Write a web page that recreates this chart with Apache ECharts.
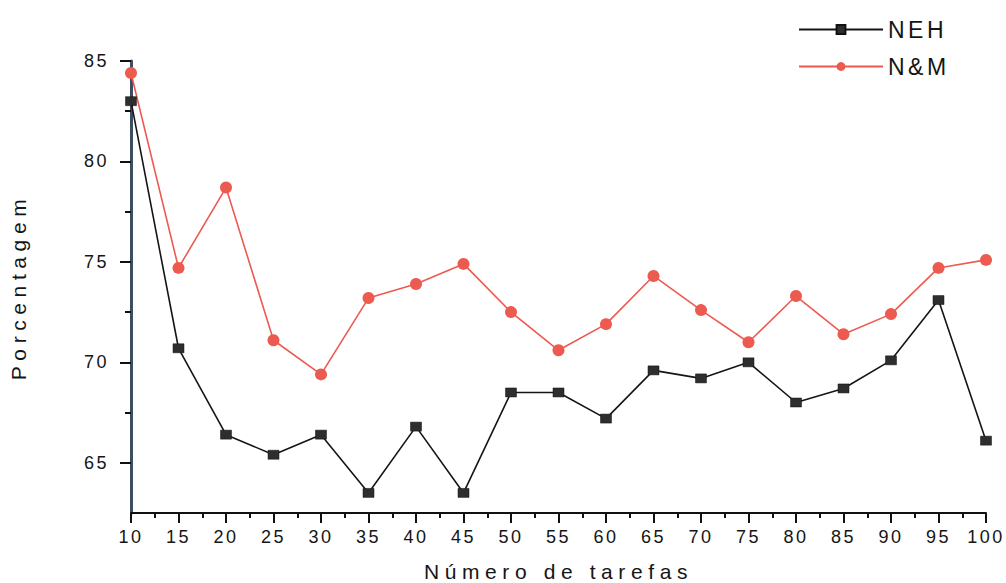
<!DOCTYPE html>
<html>
<head>
<meta charset="utf-8">
<script src="https://cdn.jsdelivr.net/npm/echarts@6/dist/echarts.min.js"></script>
<style>
  html, body { margin: 0; padding: 0; background: #fff; }
  #chart { width: 1006px; height: 583px; }
  /* widely tracked lettering, as in the printed figure */
  #chart text[style*="21px"] { letter-spacing: 5.6px; }
  #chart text[style*="23px"] { letter-spacing: 3.5px; }
  #chart text[style*="18px"] { letter-spacing: 2.5px; }
</style>
</head>
<body>
<div id="chart"></div>
<script>
// Number of tasks (x) and percentage reached by each heuristic
const tarefas = [10, 15, 20, 25, 30, 35, 40, 45, 50, 55, 60, 65, 70, 75, 80, 85, 90, 95, 100];
const neh = [83.0, 70.7, 66.4, 65.4, 66.4, 63.5, 66.8, 63.5, 68.5, 68.5, 67.2, 69.6, 69.2, 70.0, 68.0, 68.7, 70.1, 73.1, 66.1];
const nm  = [84.4, 74.7, 78.7, 71.1, 69.4, 73.2, 73.9, 74.9, 72.5, 70.6, 71.9, 74.3, 72.6, 71.0, 73.3, 71.4, 72.4, 74.7, 75.1];

// Y axis tick positions
const yMajorTicks = [65, 70, 75, 80, 85];
const yMinorTicks = [67.5, 72.5, 77.5, 82.5];

const pairs = (xs, ys) => xs.map((x, i) => [x, ys[i]]);

const chart = echarts.init(document.getElementById('chart'), null, { renderer: 'svg' });

const fontFamily = 'Liberation Sans, Arial, sans-serif';

chart.setOption({
  backgroundColor: '#ffffff',
  animation: false,
  grid: { left: 131, right: 20, top: 61, bottom: 70, containLabel: false, outerBoundsMode: 'none' },
  legend: {
    orient: 'vertical',
    left: 793,
    top: 13,
    itemWidth: 84,
    itemHeight: 11,
    itemGap: 14,
    textStyle: { fontFamily, fontSize: 23, color: '#151515' },
    data: ['NEH', 'N&M']
  },
  xAxis: {
    type: 'value',
    min: 10,
    max: 100,
    interval: 5,
    name: 'Número de tarefas',
    nameLocation: 'middle',
    nameGap: 48,
    nameTextStyle: { fontFamily, fontSize: 21, color: '#151515' },
    splitLine: { show: false },
    axisLine: { show: true, lineStyle: { color: '#111', width: 2 } },
    axisTick: { show: true, inside: false, length: 10, lineStyle: { color: '#111', width: 2 } },
    minorTick: { show: true, splitNumber: 2, length: 5, lineStyle: { color: '#111', width: 2 } },
    axisLabel: { fontFamily, fontSize: 18, color: '#151515', margin: 15 }
  },
  yAxis: [
    {
      type: 'value',
      min: 62.5,
      max: 85,
      name: 'Porcentagem',
      nameLocation: 'middle',
      nameGap: 102,
      nameTextStyle: { fontFamily, fontSize: 21, color: '#151515' },
      splitLine: { show: false },
      axisLine: { show: true, onZero: false, lineStyle: { color: '#3b4f60', width: 3 } },
      axisTick: { show: true, inside: false, length: 11, customValues: yMajorTicks, lineStyle: { color: '#111', width: 2 } },
      axisLabel: { fontFamily, fontSize: 18, color: '#151515', margin: 22, customValues: yMajorTicks }
    },
    {
      type: 'value',
      min: 62.5,
      max: 85,
      position: 'left',
      splitLine: { show: false },
      axisLine: { show: false },
      axisTick: { show: true, inside: false, length: 6, customValues: yMinorTicks, lineStyle: { color: '#111', width: 2 } },
      axisLabel: { show: false }
    }
  ],
  series: [
    {
      name: 'NEH',
      type: 'line',
      data: pairs(tarefas, neh),
      symbol: 'rect',
      symbolSize: [11, 9],
      z: 3,
      itemStyle: { color: '#2e2e2e', borderColor: '#111', borderWidth: 0.5 },
      lineStyle: { color: '#151515', width: 1.6 }
    },
    {
      name: 'N&M',
      type: 'line',
      data: pairs(tarefas, nm),
      symbol: 'circle',
      symbolSize: 12,
      z: 2,
      itemStyle: { color: '#ec5a50' },
      lineStyle: { color: '#ec5a50', width: 1.6 }
    }
  ]
});
</script>
</body>
</html>
